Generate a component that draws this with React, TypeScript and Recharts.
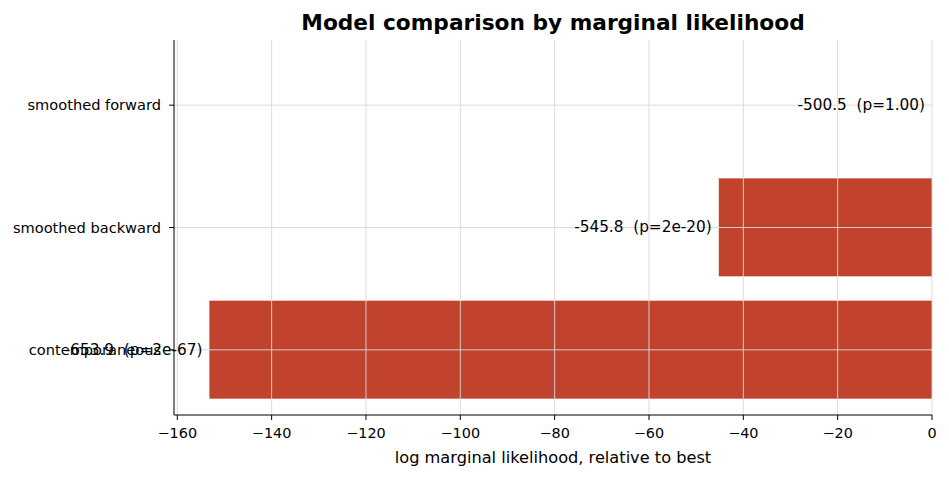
import { BarChart, Bar, XAxis, YAxis, ReferenceLine, LabelList } from 'recharts';

const models = ['smoothed forward', 'smoothed backward', 'contemporaneous'];
const relativeLogML = [0, -45.2, -153.2];
const barLabels = ['-500.5  (p=1.00)', '-545.8  (p=2e-20)', '-653.9  (p=2e-67)'];
const xTicks = [-160, -140, -120, -100, -80, -60, -40, -20, 0];

const data = models.map((model, i) => ({ model, value: relativeLogML[i], label: barLabels[i] }));

const FONT = 'DejaVu Sans, sans-serif';
const GRID = '#d9d9d9';

const BarText = (props: any) => {
  const { x, y, width, height, value } = props;
  const left = Math.min(x, x + width);
  return (
    <text x={left - 7} y={y + height / 2} textAnchor="end" dominantBaseline="central" fontSize={15.3} fontFamily={FONT} fill="#000" style={{ whiteSpace: 'pre' }}>
      {value}
    </text>
  );
};

// zero-valued bars get a min size so their label still shows; draw only real widths
const BarShape = (props: any) => {
  const { x, y, width, height, fill, value } = props;
  const v = Array.isArray(value) ? value[1] - value[0] : value;
  if (!v) return null;
  const left = Math.min(x, x + width);
  return <rect x={left} y={y} width={Math.abs(width)} height={height} fill={fill} />;
};

export default function App() {
  return (
    <div style={{ position: 'absolute', left: 0, top: 0, width: 949, height: 477, background: '#fff' }}>
      <BarChart
        width={949}
        height={477}
        data={data}
        layout="vertical"
        margin={{ top: 40, right: 17, bottom: 22, left: 0 }}
        barSize={98}
      >
        <XAxis
          type="number"
          domain={[-160.7, 0]}
          ticks={xTicks}
          allowDataOverflow
          height={40}
          stroke="#000"
          tickSize={5}
          tickMargin={8}
          tick={{ fill: '#000', fontSize: 14.4, fontFamily: FONT }}
          tickFormatter={(v: number) => String(v).replace('-', '\u2212')}
        />
        <YAxis
          type="category"
          dataKey="model"
          width={174}
          stroke="#000"
          tickSize={5}
          tickMargin={8}
          tick={{ fill: '#000', fontSize: 14.6, fontFamily: FONT }}
          padding={{ top: 4, bottom: 4 }}
        />
        <Bar dataKey="value" fill="#c1432e" minPointSize={1} shape={<BarShape />} isAnimationActive={false}>
          <LabelList dataKey="label" content={<BarText />} />
        </Bar>
        {xTicks.map((t) => (
          <ReferenceLine key={`gx${t}`} x={t} stroke={GRID} strokeOpacity={0.9} />
        ))}
        {models.map((m) => (
          <ReferenceLine key={`gy${m}`} y={m} stroke={GRID} strokeOpacity={0.9} />
        ))}
        <text x={553} y={22} textAnchor="middle" dominantBaseline="central" fontSize={21.7} fontWeight="bold" fontFamily={FONT} fill="#000">
          Model comparison by marginal likelihood
        </text>
        <text x={553} y={457} textAnchor="middle" dominantBaseline="central" fontSize={16.2} fontFamily={FONT} fill="#000">
          log marginal likelihood, relative to best
        </text>
      </BarChart>
    </div>
  );
}
